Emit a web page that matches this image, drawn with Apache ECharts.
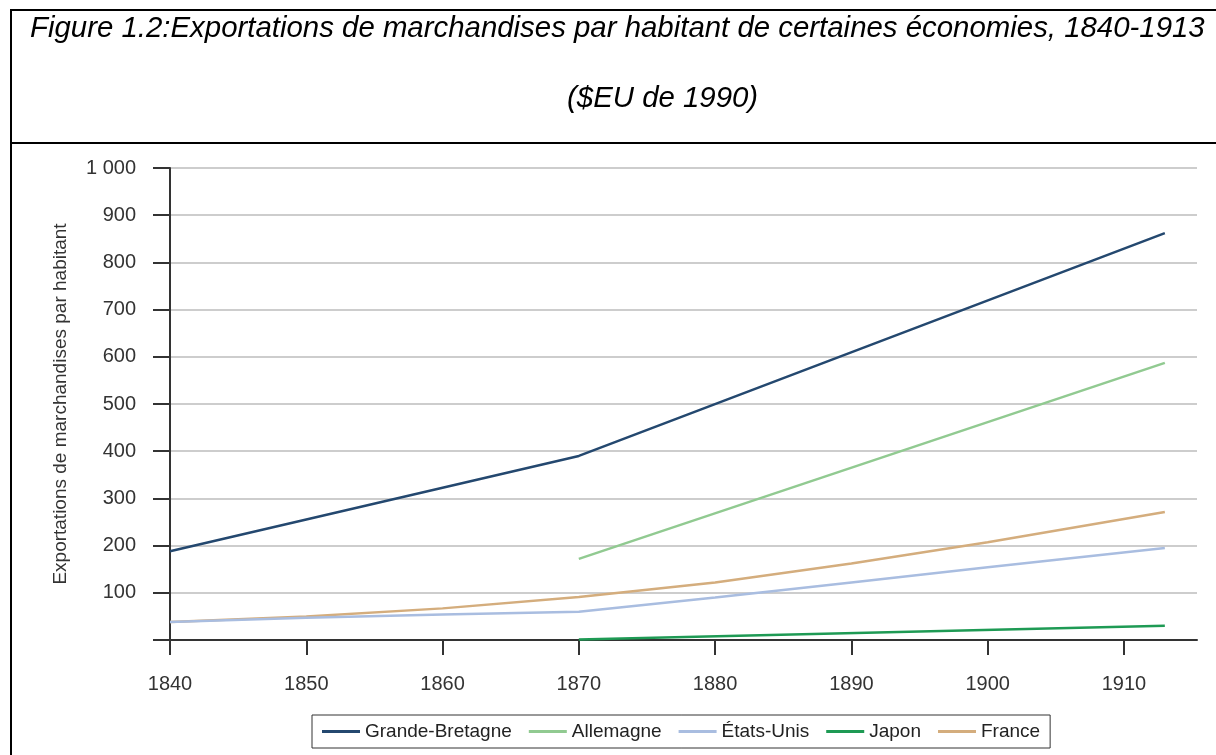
<!DOCTYPE html>
<html><head><meta charset="utf-8">
<script src="https://cdn.jsdelivr.net/npm/echarts@6/dist/echarts.min.js"></script>
<style>html,body{margin:0;padding:0;background:#fff}#c{width:1216px;height:755px}</style>
</head><body><div id="c"></div>
<script>
const years = [1840, 1850, 1860, 1870, 1880, 1890, 1900, 1913];
const grandeBretagne = [188, null, null, 390, null, null, null, 862];
const allemagne = [null, null, null, 172, null, null, null, 587];
const etatsUnis = [38, 47, 54, 60, 90, 122, 154, 195];
const japon = [null, null, null, 1, null, null, null, 30];
const france = [38, 50, 67, 91, 122, 162, 207, 271];
const seriesNames = ['Grande-Bretagne', 'Allemagne', 'États-Unis', 'Japon', 'France'];
const xTicks = [1840, 1850, 1860, 1870, 1880, 1890, 1900, 1910];
const titleLine1 = 'Figure 1.2:Exportations de marchandises par habitant de certaines économies, 1840-1913';
const titleLine2 = '($EU de 1990)';
const yName = 'Exportations de marchandises par habitant';

const colors = ['#24486f', '#91ca91', '#a9bde0', '#1e9a54', '#d4ad7d'];
const allData = [grandeBretagne, allemagne, etatsUnis, japon, france];
const FONT = 'Liberation Sans, Arial, sans-serif';

const chart = echarts.init(document.getElementById('c'), null, {renderer: 'canvas'});
chart.setOption({
  animation: false,
  backgroundColor: '#fff',
  color: colors,
  graphic: [
    {type: 'line', shape: {x1: 11, y1: 10, x2: 1216, y2: 10}, style: {stroke: '#000', lineWidth: 2}},
    {type: 'line', shape: {x1: 11, y1: 9, x2: 11, y2: 755}, style: {stroke: '#000', lineWidth: 2}},
    {type: 'line', shape: {x1: 11, y1: 143, x2: 1216, y2: 143}, style: {stroke: '#000', lineWidth: 2}},
    {type: 'text', left: 30, top: 14, style: {text: titleLine1, font: 'italic 29.4px ' + FONT, fill: '#000'}},
    {type: 'text', left: 567, top: 84, style: {text: titleLine2, font: 'italic 29.4px ' + FONT, fill: '#000'}}
  ],
  legend: {
    data: seriesNames,
    left: 312, top: 715,
    icon: 'rect', itemWidth: 38, itemHeight: 3, itemGap: 17,
    borderColor: '#333', borderWidth: 1, padding: [7, 10],
    textStyle: {fontSize: 19, fontFamily: FONT, color: '#222'}
  },
  grid: {left: 170, right: 19, top: 168, bottom: 115, containLabel: false},
  xAxis: {
    type: 'value', min: 1840, max: 1915.36,
    axisLine: {show: true, lineStyle: {color: '#333', width: 2}},
    axisTick: {show: true, length: 15, lineStyle: {color: '#333', width: 2}, customValues: xTicks},
    axisLabel: {customValues: xTicks, margin: 34, fontSize: 20, fontFamily: FONT, color: '#333',
      formatter: v => String(v)},
    splitLine: {show: false}
  },
  yAxis: {
    type: 'value', min: 0, max: 1000, interval: 100,
    name: yName, nameLocation: 'middle', nameGap: 100, nameRotate: 90,
    nameTextStyle: {fontSize: 19, fontFamily: FONT, color: '#333'},
    axisLine: {show: true, lineStyle: {color: '#333', width: 2}},
    axisTick: {show: true, length: 17, lineStyle: {color: '#333', width: 2}},
    axisLabel: {margin: 34, fontSize: 20, fontFamily: FONT, color: '#333',
      formatter: v => v === 0 ? '' : (v >= 1000 ? '1 000' : String(v))},
    splitLine: {show: true, lineStyle: {color: '#bdbdbd', width: 1.5}}
  },
  series: allData.map((arr, i) => ({
    name: seriesNames[i],
    type: 'line',
    data: years.map((y, j) => [y, arr[j]]),
    connectNulls: true,
    showSymbol: false, symbol: 'none',
    lineStyle: {width: 2.5, color: colors[i]},
    z: 10 - i
  }))
});
</script></body></html>
